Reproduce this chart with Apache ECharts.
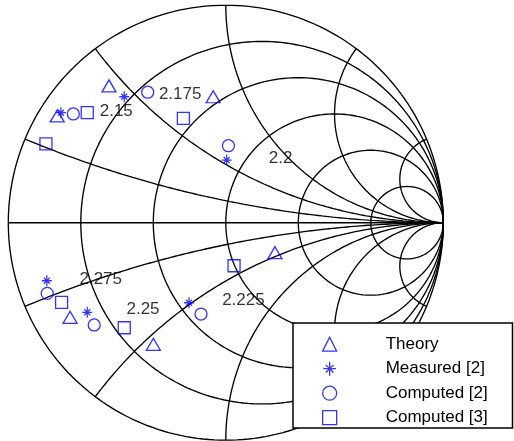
<!DOCTYPE html>
<html><head><meta charset="utf-8">
<script src="https://cdn.jsdelivr.net/npm/echarts@6/dist/echarts.min.js"></script>
<style>html,body{margin:0;padding:0;background:#fff}#c{width:514px;height:441px}</style>
</head><body><div id="c"></div>
<script>
// Smith chart grid values
const resistanceValues = [0, 0.2, 0.5, 1, 2, 5];
const reactanceValues = [0.2, 0.5, 1, 2, 5, -0.2, -0.5, -1, -2, -5];

// Frequency labels (GHz) and their anchor points (reflection coefficient plane)
const frequencyLabels = ['2.15', '2.175', '2.2', '2.225', '2.25', '2.275'];
const labelU = [-0.582, -0.310, 0.195, -0.019, -0.459, -0.675];
const labelV = [0.514, 0.589, 0.298, -0.359, -0.399, -0.261];

// Series (reflection coefficient, real / imaginary)
const theoryRe = [-0.775, -0.537, -0.058, 0.226, -0.333, -0.716];
const theoryIm = [0.491, 0.629, 0.579, -0.138, -0.559, -0.435];
const measuredRe = [-0.758, -0.467, 0.004, -0.169, -0.637, -0.823];
const measuredIm = [0.506, 0.579, 0.288, -0.368, -0.412, -0.267];
const computed2Re = [-0.701, -0.359, 0.012, -0.114, -0.605, -0.821];
const computed2Im = [0.500, 0.600, 0.354, -0.420, -0.470, -0.325];
const computed3Re = [-0.637, -0.827, -0.195, 0.038, -0.467, -0.755];
const computed3Im = [0.506, 0.362, 0.480, -0.198, -0.483, -0.366];

const seriesNames = ['Theory', 'Measured [2]', 'Computed [2]', 'Computed [3]'];

function zip(a, b) { return a.map((v, i) => [v, b[i]]); }

// grid curves
const N = 240;
function rCircle(r) {
  const c = r / (1 + r), rad = 1 / (1 + r), pts = [];
  for (let i = 0; i <= N; i++) {
    const p = 2 * Math.PI * i / N;
    pts.push([c + rad * Math.cos(p), rad * Math.sin(p)]);
  }
  return pts;
}
function xArc(x) {
  const ax = Math.abs(x), cy = 1 / ax, rad = 1 / ax;
  const px = (ax * ax - 1) / (ax * ax + 1), py = 2 * ax / (ax * ax + 1);
  let end = Math.atan2(py - cy, px - 1);
  const start = -Math.PI / 2;
  if (end > start) end -= 2 * Math.PI;
  const pts = [];
  for (let i = 0; i <= N; i++) {
    const p = start + (end - start) * i / N;
    const y = cy + rad * Math.sin(p);
    pts.push([1 + rad * Math.cos(p), x > 0 ? y : -y]);
  }
  return pts;
}

const gridStyle = { color: '#000', width: 1.35 };
const series = [];
resistanceValues.forEach(r => series.push({
  type: 'line', data: rCircle(r), showSymbol: false, silent: true,
  lineStyle: gridStyle, z: 1, animation: false
}));
reactanceValues.forEach(x => series.push({
  type: 'line', data: xArc(x), showSymbol: false, silent: true,
  lineStyle: gridStyle, z: 1, animation: false
}));
series.push({
  type: 'line', data: [[-1, 0], [1, 0]], showSymbol: false, silent: true,
  lineStyle: gridStyle, z: 1, animation: false
});

const blue = '#0000ff';
const starPath = 'path://M5,0L5,11M0,5.5L10,5.5M2,2.5L8,8.5M2,8.5L8,2.5';
const markerDefs = [
  { data: zip(theoryRe, theoryIm), symbol: 'triangle', size: [14, 12] },
  { data: zip(measuredRe, measuredIm), symbol: starPath, size: [10, 11] },
  { data: zip(computed2Re, computed2Im), symbol: 'circle', size: 12 },
  { data: zip(computed3Re, computed3Im), symbol: 'rect', size: 12 }
];
markerDefs.forEach((m, i) => series.push({
  name: seriesNames[i], type: 'scatter', data: m.data,
  symbol: m.symbol, symbolSize: m.size, z: 5, animation: false,
  itemStyle: { color: 'rgba(0,0,0,0)', borderColor: blue, borderWidth: 1.3 }
}));

series.push({
  type: 'scatter', z: 4, animation: false, silent: true,
  data: frequencyLabels.map((t, i) => ({ name: t, value: [labelU[i], labelV[i]] })),
  symbolSize: 1, itemStyle: { color: 'rgba(0,0,0,0)' },
  label: {
    show: true, position: 'right', distance: 0, formatter: '{b}',
    fontFamily: 'Liberation Sans, Arial, sans-serif', fontSize: 17, color: '#000'
  }
});

const chart = echarts.init(document.getElementById('c'), null, { renderer: 'canvas' });
chart.setOption({
  animation: false,
  backgroundColor: '#fff',
  grid: { left: 8.3, top: 5.2, width: 435, height: 435 },
  xAxis: { type: 'value', min: -1, max: 1, show: false },
  yAxis: { type: 'value', min: -1, max: 1, show: false },
  graphic: { elements: [{
    type: 'rect', z: 50,
    shape: { x: 293, y: 323, width: 219.5, height: 105 },
    style: { fill: '#fff', stroke: '#000', lineWidth: 1.5 }
  }] },
  legend: {
    orient: 'vertical', left: 322, top: 335.7, padding: 0,
    itemWidth: 14, itemHeight: 14, itemGap: 7.5, z: 60,
    selectedMode: false, data: seriesNames,
    itemStyle: { borderWidth: 1.3 },
    textStyle: { fontFamily: 'Liberation Sans, Arial, sans-serif', fontSize: 17, color: '#000', lineHeight: 14, padding: [0, 0, 0, 44] }
  },
  series: series
});
</script></body></html>
